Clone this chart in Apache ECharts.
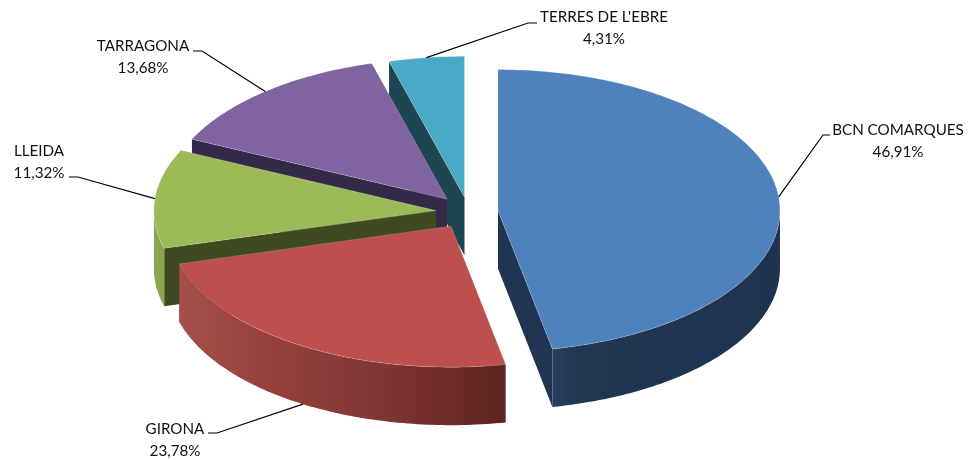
<!DOCTYPE html>
<html>
<head>
<meta charset="utf-8">
<style>
  html, body { margin: 0; padding: 0; background: #fff; }
  #chart { width: 968px; height: 460px; }
</style>
<script src="https://cdn.jsdelivr.net/npm/echarts@6/dist/echarts.min.js"></script>
</head>
<body>
<div id="chart"></div>
<script>
const categories = ['BCN COMARQUES', 'GIRONA', 'LLEIDA', 'TARRAGONA', "TERRES DE L'EBRE"]
const shares = [46.91, 23.78, 11.32, 13.68, 4.31]

// pie geometry
const center = [468.5, 212]
const rx = 282
const ry = 141
const depth = 58
const explode = [0.105, 0.118, 0.116, 0.118, 0.105]

const topColors = ['#4f81bd', '#bd4f4c', '#9bbb59', '#8064a2', '#4aa9c4']
const faceColors = ['#1f3552', '#5e2523', '#3f4a21', '#35294a', '#1e4552']
const wallStops = [
  [[0, '#27405f'], [0.12, '#203651'], [1, '#1f3350']],
  [[0, '#a54f4a'], [0.3, '#953f3b'], [0.6, '#823634'], [1, '#5c2422']],
  [[0, '#8ba64f'], [1, '#8ba64f']],
  [[0, '#35294a'], [1, '#35294a']],
  [[0, '#1e4552'], [1, '#1e4552']],
]

// label centre + elbow of the leader line
const labelPos = [[898, 141], [175, 440], [39, 162], [143, 57], [604, 28.5]]
const elbows = [
  [[823, 135], [830, 135]],
  [[217, 433], [208, 433]],
  [[78, 177], [69, 177]],
  [[202, 51], [193, 51]],
  [[528, 23], [537, 23]],
]

const total = shares.reduce((a, b) => a + b, 0)
let acc = 0
const slices = shares.map((v) => {
  const start = acc / total * 360
  acc += v
  return { start, end: acc / total * 360 }
})

const rad = (d) => d * Math.PI / 180

function apexOf(i) {
  const mid = rad((slices[i].start + slices[i].end) / 2)
  return [
    center[0] + explode[i] * rx * Math.sin(mid),
    center[1] - explode[i] * ry * Math.cos(mid),
  ]
}

function rim(apex, deg, dy) {
  return [apex[0] + rx * Math.sin(rad(deg)), apex[1] - ry * Math.cos(rad(deg)) + (dy || 0)]
}

function arcPoints(apex, a, b, dy) {
  const pts = []
  const n = Math.max(2, Math.ceil(Math.abs(b - a)))
  for (let k = 0; k <= n; k++) pts.push(rim(apex, a + (b - a) * k / n, dy))
  return pts
}

function radialFace(apex, deg, color) {
  const p = rim(apex, deg)
  return {
    type: 'polygon',
    shape: { points: [apex, p, [p[0], p[1] + depth], [apex[0], apex[1] + depth]] },
    style: { fill: color },
  }
}

function renderSlice(params, api) {
  const i = api.value(0)
  const { start, end } = slices[i]
  const apex = apexOf(i)
  const children = [radialFace(apex, start, faceColors[i]), radialFace(apex, end, faceColors[i])]

  // only the front half of the rim shows a wall
  const a = Math.max(start, 90)
  const b = Math.min(end, 270)
  if (a < b) {
    children.push({
      type: 'polygon',
      shape: { points: arcPoints(apex, a, b).concat(arcPoints(apex, b, a, depth)) },
      style: {
        fill: new echarts.graphic.LinearGradient(0, 0, 1, 0,
          wallStops[i].map(s => ({ offset: s[0], color: s[1] }))),
      },
    })
  }

  children.push({
    type: 'polygon',
    shape: { points: [apex].concat(arcPoints(apex, start, end)) },
    style: { fill: topColors[i], stroke: 'rgba(255,255,255,0.2)', lineWidth: 1 },
  })
  return { type: 'group', children }
}

function renderLabel(params, api) {
  const i = api.value(0)
  const apex = apexOf(i)
  const mid = (slices[i].start + slices[i].end) / 2
  // leader leaves from the middle of the slice; front slices from the bottom of the wall
  const from = rim(apex, mid, mid > 180 && mid < 270 ? depth : 0)
  return {
    type: 'group',
    children: [
      {
        type: 'polyline',
        shape: { points: [from].concat(elbows[i]) },
        style: { stroke: '#000', lineWidth: 1.2, fill: null },
      },
      {
        type: 'text',
        style: {
          x: labelPos[i][0],
          y: labelPos[i][1],
          text: categories[i] + '\n' + shares[i].toFixed(2).replace('.', ',') + '%',
          align: 'center',
          verticalAlign: 'middle',
          lineHeight: 22,
          fontFamily: 'Lato',
          fontSize: 15.2,
          fill: '#111',
        },
      },
    ],
  }
}

const chart = echarts.init(document.getElementById('chart'))
chart.setOption({
  animation: false,
  backgroundColor: '#fff',
  series: [
    {
      type: 'custom',
      coordinateSystem: 'none',
      renderItem: renderSlice,
      silent: true,
      // back to front
      data: [4, 3, 2, 1, 0].map(i => [i, shares[i]]),
    },
    {
      type: 'custom',
      coordinateSystem: 'none',
      renderItem: renderLabel,
      silent: true,
      z: 3,
      data: shares.map((v, i) => [i, v]),
    },
  ],
})
</script>
</body>
</html>
